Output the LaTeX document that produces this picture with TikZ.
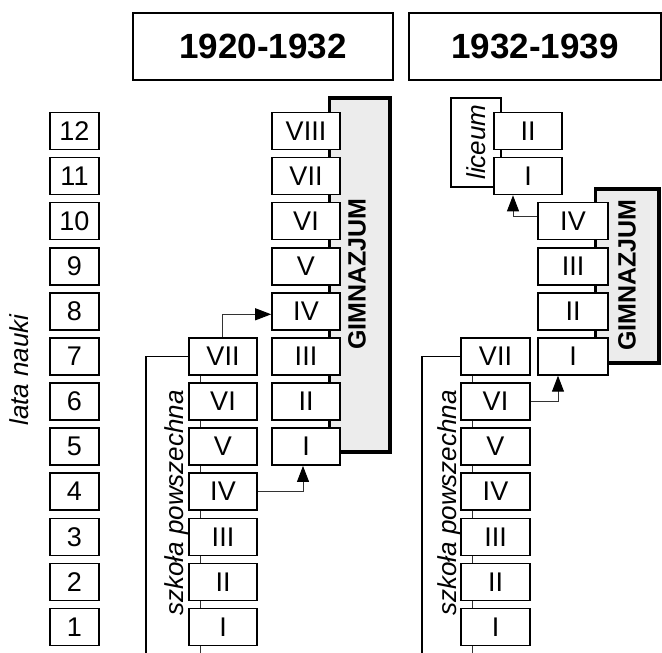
\documentclass[tikz,border=0pt]{standalone}
\usepackage{fontspec}
\setmainfont{Liberation Sans}
\usetikzlibrary{arrows.meta}
\definecolor{gbg}{HTML}{ECECEC}
\definecolor{lc}{HTML}{333333}
\begin{document}
\begin{tikzpicture}[x=1pt,y=-1pt,
  yb/.style={draw, line width=1.6pt, fill=white, minimum width=49pt, minimum height=37pt, inner sep=0pt, font=\fontsize{27}{27}\selectfont},
  rb/.style={draw, line width=1.6pt, fill=white, minimum width=68pt, minimum height=37pt, inner sep=0pt, font=\fontsize{27}{27}\selectfont},
  hdr/.style={draw, line width=1.6pt, minimum height=67pt, inner sep=0pt, font=\fontsize{35}{35}\selectfont\bfseries},
  graybox/.style={draw, line width=3.5pt, fill=gbg},
  conn/.style={line width=1pt, draw=lc},
  bracket/.style={line width=1.4pt, draw=black},
  arr/.style={conn, -{Triangle[length=16pt,width=12pt,color=black,fill=black]}},
  rot/.style={rotate=90, inner sep=0pt, font=\fontsize{26}{26}\selectfont\itshape},
  gtext/.style={rotate=90, inner sep=0pt, font=\fontsize{25}{25}\selectfont\bfseries},
]
\useasboundingbox (0,0) rectangle (662,653);

% headers
\node[hdr, minimum width=260pt] (h1) at (263,46.5) {1920-1932};
\node[hdr, minimum width=252pt] (h2) at (535,46.5) {1932-1939};

% years
\foreach \r/\yy in {1/627,2/581.9,3/536.8,4/491.7,5/446.6,6/401.5,7/356.4,8/311.3,9/266.2,10/221.1,11/176.0,12/130.9}{
  \node[yb] (y\r) at (74.5,\yy) {\r};
}
\node[rot] (lata) at (19,370) {lata nauki};

% ---------- 1920-1932 ----------
\draw[graybox] (329.5,98) rectangle (390,452);
\node[gtext] (gim1) at (357,274) {GIMNAZJUM};

\coordinate (abot) at (146,653);
\coordinate (acen) at (200,653);
\coordinate (bt) at (223,356.4);
\draw[conn] (bt -| acen) -- (acen);

\foreach \r/\t/\yy in {1/I/627,2/II/581.9,3/III/536.8,4/IV/491.7,5/V/446.6,6/VI/401.5,7/VII/356.4}{
  \node[rb] (a\r) at (223,\yy) {\t};
}
\foreach \r/\t/\yy in {1/I/446.6,2/II/401.5,3/III/356.4,4/IV/311.3,5/V/266.2,6/VI/221.1,7/VII/176.0,8/VIII/130.9}{
  \node[rb] (b\r) at (306,\yy) {\t};
}
\draw[bracket] (a7.west) -| (abot);
\node[rot] (sp1) at (177,503) {szkoła powszechna};

\draw[arr] ([xshift=-1pt]a7.north) |- ([yshift=-3pt]b4.west);
\draw[arr] (a4.east) -| ([xshift=-3pt]b1.south);

% ---------- 1932-1939 ----------
\draw[graybox] (595.5,189) rectangle (659,363);
\node[gtext] (gim2) at (627,275) {GIMNAZJUM};

\node[draw, line width=1.6pt, minimum width=50pt, minimum height=89pt, inner sep=0pt] (lic) at (476,142.5) {};
\node[rot] (lict) at (476,142) {liceum};

\coordinate (cbot) at (422,653);
\coordinate (ccen) at (472,653);
\draw[conn] (bt -| ccen) -- (ccen);

\foreach \r/\t/\yy in {1/I/627,2/II/581.9,3/III/536.8,4/IV/491.7,5/V/446.6,6/VI/401.5,7/VII/356.4}{
  \node[rb, minimum width=69pt] (c\r) at (495.5,\yy) {\t};
}
\foreach \r/\t/\yy in {1/I/356.4,2/II/311.3,3/III/266.2,4/IV/221.1}{
  \node[rb, minimum width=70pt] (d\r) at (573,\yy) {\t};
}
\foreach \r/\t/\yy in {1/I/176.0,2/II/130.9}{
  \node[rb] (e\r) at (528,\yy) {\t};
}
\draw[bracket] (c7.west) -| (cbot);
\node[rot] (sp2) at (450,503) {szkoła powszechna};

\draw[arr] (c6.east) -| ([xshift=-15pt]d1.south);
\draw[arr] ([yshift=5pt]d4.west) -| ([xshift=-15pt]e1.south);
\end{tikzpicture}
\end{document}
